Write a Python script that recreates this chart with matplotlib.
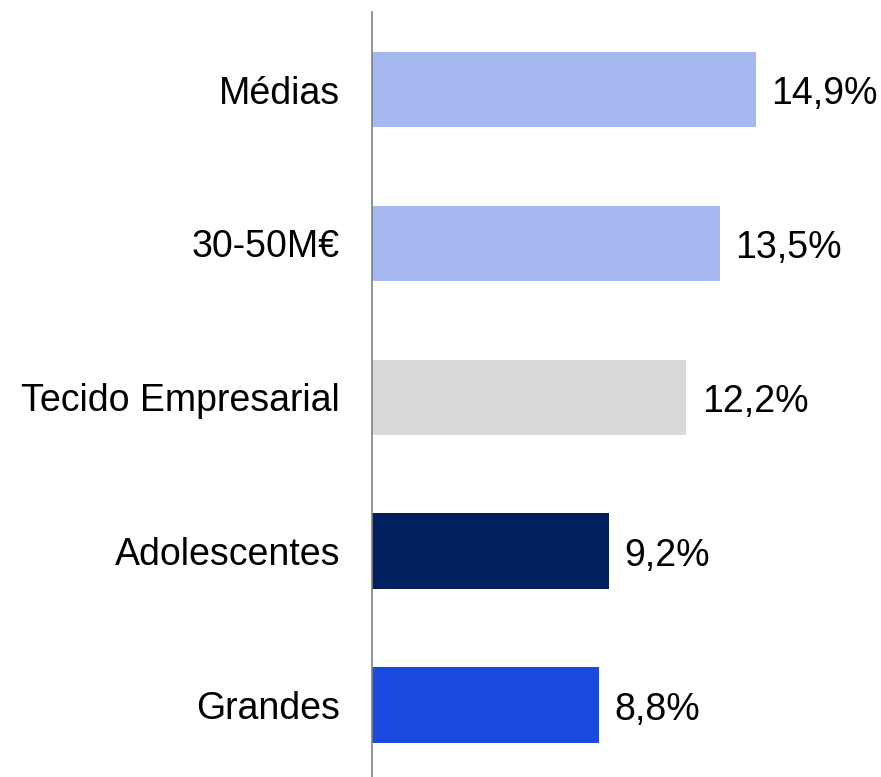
import matplotlib.pyplot as plt

categorias = ['Médias', '30-50M€', 'Tecido Empresarial', 'Adolescentes', 'Grandes']
valores = [14.9, 13.5, 12.2, 9.2, 8.8]
rotulos = ['14,9%', '13,5%', '12,2%', '9,2%', '8,8%']
cores = ['#A6B8F0', '#A6B8F0', '#D9D9D9', '#00205F', '#1B4ADF']

plt.rcParams['font.family'] = ['Liberation Sans', 'DejaVu Sans']

fig = plt.figure(figsize=(8.81, 7.77), dpi=100)
ax = fig.add_axes([372 / 881, 0, 509 / 881, 765 / 777])

pos = list(range(len(categorias)))[::-1]
ax.barh(pos, valores, height=0.49, color=cores)
for p, v, r in zip(pos, valores, rotulos):
    ax.text(v + 0.6, p - 0.03, r, va='center', ha='left', fontsize=27)

ax.set_xlim(0, 19.75)
ax.set_ylim(-0.468, 4.504)
ax.set_yticks(pos)
ax.set_yticklabels(categorias, fontsize=27)
ax.tick_params(axis='y', length=0, pad=23)
ax.set_xticks([])
for s in ['top', 'right', 'bottom']:
    ax.spines[s].set_visible(False)
ax.spines['left'].set_color('#808080')
ax.spines['left'].set_linewidth(1.2)

fig.savefig('out.png', dpi=100)
